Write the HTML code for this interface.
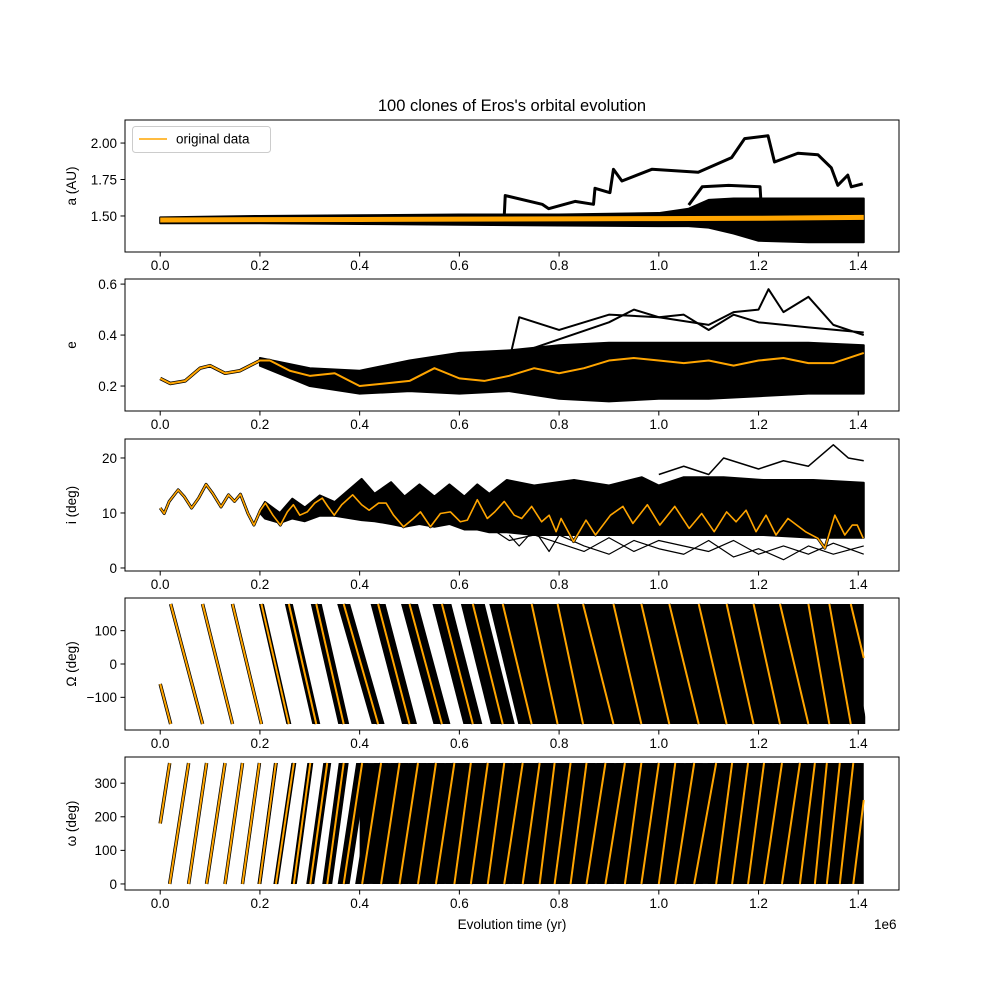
<!DOCTYPE html>
<html><head><meta charset="utf-8">
<style>
html,body{margin:0;padding:0;background:#fff;}
svg{display:block;font-family:"Liberation Sans","DejaVu Sans",sans-serif;}
</style></head>
<body>
<svg id="chart" width="1000" height="1000" viewBox="0 0 1000 1000" xmlns="http://www.w3.org/2000/svg">
<rect x="0" y="0" width="1000" height="1000" fill="#fff"/>
<text x="512" y="111" font-size="16.5" text-anchor="middle">100 clones of Eros's orbital evolution</text>
<text x="512" y="929" font-size="13.5" text-anchor="middle">Evolution time (yr)</text>
<text x="874" y="929" font-size="13.5" text-anchor="start">1e6</text>
</svg>
<script>
// ---- x axis ----
const xTicks = [0.0, 0.2, 0.4, 0.6, 0.8, 1.0, 1.2, 1.4];
const xTickLabels = ["0.0","0.2","0.4","0.6","0.8","1.0","1.2","1.4"];
const tEnd = 1.411;

// ---- panel a ----
const aTicks = [1.50, 1.75, 2.00];
const aTickLabels = ["1.50","1.75","2.00"];
const aBandT = [0, 0.2, 0.4, 0.6, 0.8, 1.0, 1.06, 1.1, 1.15, 1.2, 1.3, 1.411];
const aBandUpper = [1.49, 1.50, 1.505, 1.51, 1.51, 1.52, 1.55, 1.61, 1.62, 1.62, 1.62, 1.62];
const aBandLower = [1.45, 1.45, 1.445, 1.44, 1.435, 1.43, 1.43, 1.42, 1.38, 1.33, 1.32, 1.32];
const aOrangeT = [0, 0.2, 0.4, 0.6, 0.8, 1.0, 1.2, 1.411];
const aOrange = [1.472, 1.475, 1.476, 1.478, 1.48, 1.482, 1.484, 1.49];
const aClone1T = [0.69, 0.692, 0.766, 0.779, 0.832, 0.869, 0.872, 0.902, 0.909, 0.926, 0.986, 1.079, 1.146, 1.172, 1.219, 1.232, 1.279, 1.319, 1.346, 1.359, 1.379, 1.386, 1.409];
const aClone1 = [1.50, 1.64, 1.58, 1.55, 1.60, 1.58, 1.69, 1.66, 1.82, 1.74, 1.82, 1.80, 1.90, 2.03, 2.05, 1.87, 1.93, 1.92, 1.83, 1.71, 1.78, 1.70, 1.72];
const aClone2T = [1.06, 1.087, 1.14, 1.203, 1.205, 1.3, 1.411];
const aClone2 = [1.575, 1.70, 1.71, 1.70, 1.59, 1.60, 1.60];

// ---- panel e ----
const eTicks = [0.2, 0.4, 0.6];
const eTickLabels = ["0.2","0.4","0.6"];
const eOrangeT = [0, 0.02, 0.05, 0.08, 0.1, 0.13, 0.16, 0.2, 0.22, 0.26, 0.3, 0.35, 0.4, 0.45, 0.5, 0.55, 0.6, 0.65, 0.7, 0.75, 0.8, 0.85, 0.9, 0.95, 1.0, 1.05, 1.1, 1.15, 1.2, 1.25, 1.3, 1.35, 1.411];
const eOrange = [0.23, 0.21, 0.22, 0.27, 0.28, 0.25, 0.26, 0.30, 0.30, 0.26, 0.24, 0.25, 0.20, 0.21, 0.22, 0.27, 0.23, 0.22, 0.24, 0.27, 0.25, 0.27, 0.30, 0.31, 0.30, 0.29, 0.30, 0.28, 0.30, 0.31, 0.29, 0.29, 0.33];
const eBandT = [0.2, 0.3, 0.4, 0.5, 0.6, 0.7, 0.8, 0.9, 1.0, 1.1, 1.2, 1.3, 1.411];
const eBandUpper = [0.31, 0.27, 0.26, 0.30, 0.33, 0.34, 0.36, 0.37, 0.37, 0.37, 0.37, 0.37, 0.36];
const eBandLower = [0.28, 0.20, 0.17, 0.18, 0.17, 0.18, 0.15, 0.14, 0.15, 0.15, 0.16, 0.17, 0.17];
const eClone1T = [0.7, 0.72, 0.8, 0.9, 1.0, 1.1, 1.15, 1.2, 1.22, 1.25, 1.3, 1.35, 1.411];
const eClone1 = [0.30, 0.47, 0.42, 0.48, 0.47, 0.44, 0.49, 0.50, 0.58, 0.49, 0.55, 0.44, 0.40];
const eClone2T = [0.75, 0.9, 0.95, 1.0, 1.05, 1.1, 1.15, 1.2, 1.3, 1.411];
const eClone2 = [0.35, 0.45, 0.50, 0.47, 0.48, 0.42, 0.48, 0.45, 0.43, 0.41];

// ---- panel i ----
const iTicks = [0, 10, 20];
const iTickLabels = ["0","10","20"];
const iOrangeT = [0,0.008,0.018,0.036,0.048,0.063,0.077,0.092,0.105,0.122,0.137,0.149,0.161,0.176,0.188,0.201,0.211,0.226,0.241,0.255,0.267,0.28,0.295,0.31,0.325,0.336,0.349,0.364,0.386,0.404,0.419,0.438,0.453,0.468,0.488,0.508,0.522,0.542,0.562,0.582,0.602,0.616,0.636,0.656,0.671,0.69,0.71,0.725,0.745,0.765,0.78,0.794,0.804,0.829,0.854,0.873,0.903,0.928,0.948,0.977,1.002,1.032,1.061,1.086,1.111,1.136,1.155,1.175,1.195,1.215,1.235,1.259,1.294,1.319,1.333,1.353,1.373,1.388,1.398,1.41];
const iOrange = [10.9,9.9,12.1,14.2,13.0,10.9,12.7,15.2,13.6,11.1,13.3,12.1,13.4,9.9,7.8,10.5,11.8,9.6,7.8,10.2,11.5,9.6,10.2,11.8,12.7,11.2,9.6,11.5,13.3,11.5,10.5,11.8,11.8,9.6,7.5,9.0,10.2,7.5,9.9,10.2,8.4,8.7,12.4,9.0,10.2,12.1,9.6,9.0,11.2,8.4,9.6,6.6,9.0,4.8,8.7,6.0,9.6,11.2,8.1,11.5,7.8,11.2,7.2,9.9,6.6,10.2,8.4,10.5,6.6,9.6,6.0,9.0,6.6,5.4,3.6,9.6,6.0,7.8,7.8,5.4];
const iBandT = [0.2,0.21,0.24,0.265,0.29,0.32,0.35,0.404,0.43,0.463,0.49,0.52,0.55,0.58,0.61,0.636,0.66,0.695,0.75,0.83,0.9,0.966,1.0,1.05,1.13,1.21,1.31,1.411];
const iBandUpper = [10.5,12,10,12.6,11,13.2,12,16.2,13.5,15.6,13,15.2,13,15.2,13,15.2,13.5,16,15,16,15,16.5,15,16.5,16.5,16,16,15.5];
const iBandLower = [10,9,8.2,9,8.5,9.5,9.5,8.7,8.5,8,7.5,8,7.5,8,7,7,6.5,6.5,6,6,6,6,6,6,6,6,5.5,5.5];
const iHighT = [1.0,1.05,1.1,1.13,1.2,1.25,1.3,1.35,1.38,1.411];
const iHigh = [17,18.5,17,20,18,19.5,18.5,22.4,20,19.5];
const iLow1T = [0.7,0.72,0.75,0.78,0.8,0.85,0.9,0.95,1.0,1.05,1.1,1.15,1.2,1.25,1.3,1.35,1.411];
const iLow1 = [6,4,7,3,6,4,2.5,5,3.5,2.5,5,2,3.5,1.5,4,2.5,4];
const iLow2T = [0.65,0.7,0.75,0.8,0.85,0.9,0.95,1.0,1.05,1.1,1.15,1.2,1.25,1.3,1.35,1.411];
const iLow2 = [8,5,6,4.5,3,5.5,3,5,4,3,5,2.5,4,2.5,4.5,2.5];

// ---- panel Omega ----
const OTicks = [-100, 0, 100];
const OTickLabels = ["\u2212100","0","100"];
const OWrapT = [0.021,0.085,0.145,0.203,0.258,0.313,0.368,0.437,0.5,0.565,0.627,0.687,0.745,0.797,0.848,0.909,0.965,1.021,1.08,1.136,1.19,1.243,1.3,1.342,1.385];
const OSpread = [0,0,0.001,0.003,0.006,0.009,0.011,0.013,0.015,0.017,0.022,0.025,0.03,0.03,0.03,0.03,0.03,0.03,0.03,0.03,0.03,0.03,0.03,0.03];
const OSolidStart = 0.735;
const OStartValue = -60;
const OEndValue = 18;

// ---- panel omega ----
const wTicks = [0, 100, 200, 300];
const wTickLabels = ["0","100","200","300"];
const wWrapT = [0.019,0.057,0.093,0.13,0.165,0.199,0.232,0.268,0.301,0.335,0.368,0.405,0.443,0.48,0.517,0.553,0.59,0.623,0.657,0.69,0.727,0.761,0.791,0.823,0.855,0.893,0.932,0.965,1.0,1.033,1.071,1.115,1.147,1.179,1.211,1.247,1.283,1.313,1.337,1.363,1.39];
const wSpread = [0,0,0,0,0.001,0.002,0.003,0.004,0.006,0.008,0.01,0.012,0.015,0.015,0.015,0.015,0.015,0.015,0.015,0.015,0.015,0.015,0.015,0.015,0.015,0.015,0.015,0.015,0.015,0.015,0.015,0.015,0.015,0.015,0.015,0.015,0.015,0.015,0.015,0.015];
const wSolidStart = 0.4;
const wStartValue = 180;
const wEndValue = 250;

// ================= drawing =================
const NS = "http://www.w3.org/2000/svg";
const svg = document.getElementById("chart");
const AX_L = 125, AX_R = 899;
const XMIN = -0.0706, XMAX = 1.4817;
function X(t){ return AX_L + (t - XMIN) / (XMAX - XMIN) * (AX_R - AX_L); }
const ORANGE = "#ffa500";

const panels = [
  {key:"a", top:120, bot:252, ymin:1.253, ymax:2.158, label:"a (AU)", ticks:aTicks, labels:aTickLabels},
  {key:"e", top:279, bot:411, ymin:0.102, ymax:0.62, label:"e", ticks:eTicks, labels:eTickLabels},
  {key:"i", top:439, bot:571, ymin:-0.55, ymax:23.45, label:"i (deg)", ticks:iTicks, labels:iTickLabels},
  {key:"Omega", top:598, bot:730, ymin:-198, ymax:198, label:"\u03A9 (deg)", ticks:OTicks, labels:OTickLabels},
  {key:"omega", top:757, bot:890, ymin:-18, ymax:378, label:"\u03C9 (deg)", ticks:wTicks, labels:wTickLabels}
];
function yf(p){ return v => p.bot - (v - p.ymin) / (p.ymax - p.ymin) * (p.bot - p.top); }

function mk(tag, attrs, parent){
  const el = document.createElementNS(NS, tag);
  for (const k in attrs) el.setAttribute(k, attrs[k]);
  (parent || svg).appendChild(el);
  return el;
}
function pts(ts, vs, Y){ return ts.map((t,i)=>X(t).toFixed(2)+","+Y(vs[i]).toFixed(2)).join(" "); }
function line(g, ts, vs, Y, color, w, name){
  const el = mk("polyline", {points:pts(ts,vs,Y), fill:"none", stroke:color, "stroke-width":w, "stroke-linejoin":"round"}, g);
  
  
  return el;
}
function band(g, ts, up, lo, Y, name){
  const a = ts.map((t,i)=>X(t).toFixed(2)+","+Y(up[i]).toFixed(2));
  const b = ts.map((t,i)=>X(t).toFixed(2)+","+Y(lo[i]).toFixed(2)).reverse();
  const el = mk("polygon", {points:a.concat(b).join(" "), fill:"#000", stroke:"#000", "stroke-width":2, "stroke-linejoin":"round"}, g);
  
  
}
function wraps(g, W, S, Y, vA, vB, solidStart, startV, endV, nameBase){
  for (let k=0;k<W.length-1;k++){
    const s = S[k] || 0;
    const poly = [[W[k]-s-0.002,vA],[W[k]+s+0.002,vA],[W[k+1]+s+0.002,vB],[W[k+1]-s-0.002,vB]];
    const el = mk("polygon",{points:poly.map(p=>X(p[0]).toFixed(2)+","+Y(p[1]).toFixed(2)).join(" "), fill:"#000"}, g);
    
    
  }
  const r = mk("rect",{x:X(solidStart), y:Y(Math.max(vA,vB)), width:X(tEnd)-X(solidStart), height:Math.abs(Y(vA)-Y(vB)), fill:"#000"}, g);
  
  
  line(g, [0, W[0]], [startV, vB], Y, "#000", 3.5, nameBase+'-start-outline');
  line(g, [0, W[0]], [startV, vB], Y, ORANGE, 2, nameBase+'-original-segment');
  for (let k=0;k<W.length-1;k++){
    line(g, [W[k], W[k+1]], [vA, vB], Y, "#000", 3.5, nameBase+'-outline');
    line(g, [W[k], W[k+1]], [vA, vB], Y, ORANGE, 2, nameBase+'-original-segment');
  }
  line(g, [W[W.length-1], tEnd], [vA, endV], Y, ORANGE, 2, nameBase+'-original-segment');
}

panels.forEach(p=>{
  const Y = yf(p);
  const g = mk("g", {});
  
  
  const clipId = "clip-"+p.key;
  const cp = mk("clipPath", {id:clipId}, g);
  const isWrap = (p.key==="Omega" || p.key==="omega");
  const clipW = isWrap ? (X(tEnd)+1.5-AX_L) : (AX_R-AX_L);
  mk("rect", {x:AX_L, y:p.top, width:clipW, height:p.bot-p.top}, cp);
  const d = mk("g", {"clip-path":"url(#"+clipId+")"}, g);
  
  

  if (p.key==="a"){
    band(d, aBandT, aBandUpper, aBandLower, Y, 'a-clone-band');
    line(d, aClone1T, aClone1, Y, "#000", 3, 'a-clone-outlier-high');
    line(d, aClone2T, aClone2, Y, "#000", 3, 'a-clone-outlier-mid');
    line(d, aOrangeT, aOrange, Y, ORANGE, 5, 'a-original-line');
  } else if (p.key==="e"){
    band(d, eBandT, eBandUpper, eBandLower, Y, 'e-clone-band');
    line(d, eClone1T, eClone1, Y, "#000", 2, 'e-clone-outlier-1');
    line(d, eClone2T, eClone2, Y, "#000", 2, 'e-clone-outlier-2');
    line(d, eOrangeT, eOrange, Y, "#000", 3.5, 'e-original-outline');
    line(d, eOrangeT, eOrange, Y, ORANGE, 2, 'e-original-line');
  } else if (p.key==="i"){
    band(d, iBandT, iBandUpper, iBandLower, Y, 'i-clone-band');
    line(d, iHighT, iHigh, Y, "#000", 1.5, 'i-clone-outlier-high');
    line(d, iLow1T, iLow1, Y, "#000", 1.2, 'i-clone-outlier-low-1');
    line(d, iLow2T, iLow2, Y, "#000", 1.2, 'i-clone-outlier-low-2');
    line(d, iOrangeT, iOrange, Y, "#000", 3, 'i-original-outline');
    line(d, iOrangeT, iOrange, Y, ORANGE, 1.6, 'i-original-line');
  } else if (p.key==="Omega"){
    wraps(d, OWrapT, OSpread, Y, 180, -180, OSolidStart, OStartValue, OEndValue, 'Omega');
  } else {
    wraps(d, wWrapT, wSpread, Y, 0, 360, wSolidStart, wStartValue, wEndValue, 'omega');
  }

  const fr = mk("rect", {x:AX_L, y:p.top, width:AX_R-AX_L, height:p.bot-p.top, fill:"none", stroke:"#000", "stroke-width":1}, g);
  
  
  xTicks.forEach((t,i)=>{
    const x = X(t);
    const tk = mk("line", {x1:x, x2:x, y1:p.bot, y2:p.bot+4.5, stroke:"#000", "stroke-width":1}, g);
    
    
    const tx = mk("text", {x:x, y:p.bot+18, "font-size":13.5, "text-anchor":"middle"}, g);
    tx.textContent = xTickLabels[i];
    
    
  });
  p.ticks.forEach((v,i)=>{
    const y = Y(v);
    const tk = mk("line", {x1:AX_L-4.5, x2:AX_L, y1:y, y2:y, stroke:"#000", "stroke-width":1}, g);
    
    
    const tx = mk("text", {x:AX_L-8, y:y+4.8, "font-size":13.5, "text-anchor":"end"}, g);
    tx.textContent = p.labels[i];
    
    
  });
  const yl = mk("text", {x:0, y:0, "font-size":13.5, "text-anchor":"middle", transform:"translate(76,"+((p.top+p.bot)/2)+") rotate(-90)"}, g);
  yl.textContent = p.label;
  
  
});

const lg = mk("g", {});


const lb = mk("rect", {x:132.5, y:126.5, width:138, height:26, rx:3, fill:"#fff", "fill-opacity":0.8, stroke:"#cccccc", "stroke-width":1}, lg);


const ll = mk("line", {x1:139, x2:167, y1:139, y2:139, stroke:ORANGE, "stroke-width":1.5}, lg);


const lt = mk("text", {x:176, y:143.5, "font-size":13.5}, lg);
lt.textContent = "original data";


</script>
</body></html>
